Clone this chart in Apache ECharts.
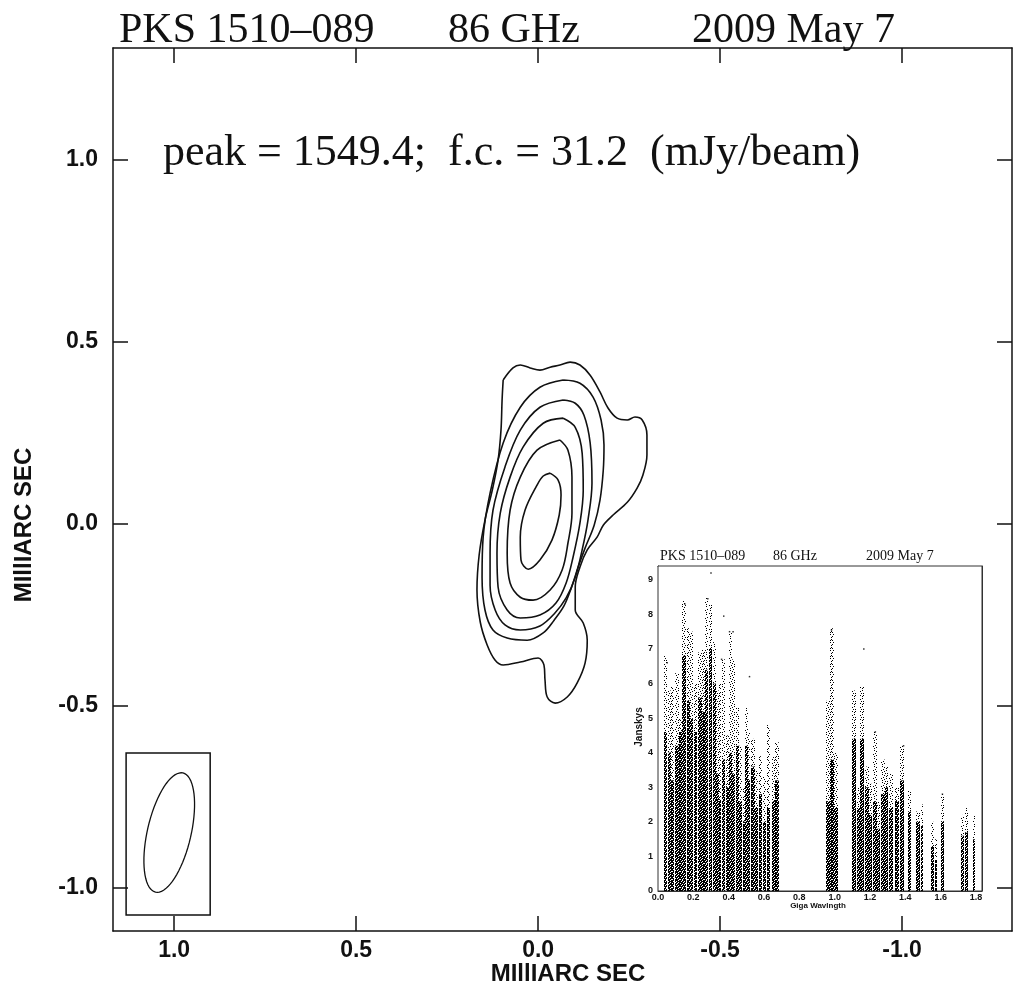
<!DOCTYPE html>
<html><head><meta charset="utf-8">
<script src="https://cdn.jsdelivr.net/npm/echarts@6/dist/echarts.min.js"></script>
<style>html,body{margin:0;padding:0;background:#fff}#c{width:1015px;height:984px}</style>
</head><body><div id="c"></div>
<script>
// ---------- main map (milliarcsec) ----------
const mapTicks = [-1.0, -0.5, 0.0, 0.5, 1.0];

const contourLevel1 = [[0.096,0.396],[0.069,0.429],[0.049,0.437],[0.022,0.429],[-0.005,0.423],[-0.033,0.431],[-0.060,0.437],[-0.088,0.445],[-0.115,0.437],[-0.143,0.409],[-0.170,0.363],[-0.192,0.319],[-0.217,0.291],[-0.245,0.286],[-0.266,0.294],[-0.286,0.286],[-0.299,0.245],[-0.299,0.190],[-0.288,0.135],[-0.272,0.099],[-0.245,0.060],[-0.206,0.025],[-0.179,-0.003],[-0.162,-0.036],[-0.135,-0.071],[-0.115,-0.118],[-0.102,-0.173],[-0.102,-0.236],[-0.124,-0.272],[-0.135,-0.319],[-0.129,-0.382],[-0.107,-0.437],[-0.080,-0.475],[-0.047,-0.492],[-0.025,-0.475],[-0.019,-0.429],[-0.016,-0.387],[0.000,-0.368],[0.049,-0.379],[0.096,-0.387],[0.118,-0.374],[0.140,-0.332],[0.159,-0.269],[0.168,-0.181],[0.162,-0.085],[0.146,0.011],[0.126,0.093],[0.110,0.176],[0.102,0.258],[0.099,0.341]];
const contourLevel2 = [[-0.069,0.396],[-0.115,0.387],[-0.151,0.349],[-0.173,0.286],[-0.181,0.217],[-0.179,0.148],[-0.170,0.066],[-0.154,-0.003],[-0.129,-0.066],[-0.110,-0.118],[-0.091,-0.176],[-0.071,-0.225],[-0.044,-0.264],[-0.014,-0.299],[0.030,-0.319],[0.085,-0.313],[0.124,-0.291],[0.146,-0.236],[0.154,-0.146],[0.151,-0.036],[0.132,0.085],[0.096,0.223],[0.049,0.321],[-0.005,0.376]];
const contourLevel3 = [[-0.069,0.341],[-0.102,0.332],[-0.126,0.299],[-0.143,0.223],[-0.148,0.113],[-0.137,0.011],[-0.121,-0.071],[-0.102,-0.146],[-0.077,-0.203],[-0.044,-0.247],[-0.005,-0.280],[0.049,-0.291],[0.091,-0.277],[0.118,-0.236],[0.132,-0.168],[0.132,-0.080],[0.124,0.038],[0.091,0.157],[0.049,0.258],[-0.005,0.321]];
const contourLevel4 = [[-0.069,0.291],[-0.102,0.266],[-0.121,0.195],[-0.124,0.093],[-0.115,0.003],[-0.096,-0.091],[-0.077,-0.162],[-0.049,-0.217],[-0.005,-0.250],[0.049,-0.258],[0.085,-0.236],[0.110,-0.173],[0.113,-0.080],[0.104,0.030],[0.077,0.129],[0.041,0.212],[-0.014,0.277]];
const contourLevel5 = [[-0.060,0.231],[-0.082,0.203],[-0.093,0.129],[-0.093,0.030],[-0.082,-0.052],[-0.066,-0.126],[-0.033,-0.181],[0.014,-0.209],[0.049,-0.201],[0.077,-0.162],[0.085,-0.080],[0.077,0.038],[0.049,0.129],[0.003,0.203]];
const contourLevel6 = [[-0.033,0.140],[-0.055,0.121],[-0.063,0.080],[-0.058,0.025],[-0.038,-0.044],[-0.005,-0.099],[0.027,-0.124],[0.047,-0.099],[0.049,-0.036],[0.036,0.038],[0.003,0.107],[-0.014,0.132]];
const contours = [contourLevel1, contourLevel2, contourLevel3, contourLevel4, contourLevel5, contourLevel6];

const beamCenter = [1.0135, -0.8475];   // mas
const beamAxes = [0.168, 0.060];         // semi-major, semi-minor (mas)
const beamPA = [-13];                    // degrees
const beamBox = [[1.132, -0.629], [0.901, -1.074]];

// ---------- inset: amplitude vs uv distance ----------
const uvTicks = [0.0, 0.2, 0.4, 0.6, 0.8, 1.0, 1.2, 1.4, 1.6, 1.8];
const ampTicks = [0, 1, 2, 3, 4, 5, 6, 7, 8, 9];
// [u start, u end, top of dense cloud (Jy), top of sparse points (Jy)]
const uvStripes = [
 [0.035,0.052,4.6,6.8],[0.055,0.072,4.0,5.8],[0.075,0.092,3.2,5.9],[0.095,0.115,4.2,6.3],
 [0.118,0.135,4.6,5.0],[0.138,0.160,6.8,8.4],[0.163,0.180,5.5,7.6],[0.183,0.201,5.0,7.5],
 [0.204,0.222,4.6,6.0],[0.225,0.245,5.6,6.9],[0.248,0.265,5.2,7.0],[0.268,0.285,6.4,8.5],
 [0.288,0.306,7.0,8.3],[0.309,0.325,6.0,7.2],[0.328,0.345,3.4,5.8],[0.348,0.362,2.6,6.0],
 [0.365,0.380,3.8,6.7],[0.383,0.399,3.0,4.5],[0.402,0.418,4.0,7.5],[0.421,0.437,3.4,6.7],
 [0.440,0.456,4.2,5.3],[0.459,0.476,2.6,4.2],[0.479,0.488,2.0,3.0],[0.491,0.506,4.2,5.3],
 [0.509,0.522,3.2,4.6],[0.525,0.545,3.6,4.4],[0.550,0.566,2.4,3.5],[0.572,0.590,2.8,3.9],
 [0.597,0.613,2.0,3.3],[0.618,0.634,2.4,4.8],[0.645,0.661,2.6,3.9],[0.665,0.686,3.2,4.3],
 [0.950,0.972,2.6,5.5],[0.972,0.996,3.8,7.6],[0.996,1.018,2.4,4.0],
 [1.096,1.120,4.4,5.8],[1.124,1.142,2.4,3.0],[1.146,1.170,4.4,5.9],[1.170,1.194,3.0,3.6],
 [1.196,1.212,2.2,3.1],[1.218,1.238,2.6,4.6],[1.242,1.260,1.8,2.6],[1.262,1.282,2.8,3.8],
 [1.284,1.302,3.0,3.6],[1.306,1.328,2.4,3.4],[1.340,1.360,2.6,3.0],[1.370,1.392,3.2,4.2],
 [1.414,1.432,2.3,2.9],[1.458,1.478,2.0,2.3],[1.486,1.500,1.9,2.5],[1.544,1.562,1.3,2.0],
 [1.568,1.582,0.9,1.5],[1.600,1.618,2.0,2.8],[1.714,1.732,1.6,2.2],[1.736,1.752,1.7,2.4],
 [1.782,1.796,1.5,2.2]
];
const uvOutliers = [[0.300,9.2],[0.282,8.45],[0.152,8.3],[0.372,7.95],[0.405,7.5],[0.425,7.5],[0.518,6.2],[1.165,7.0],[0.982,7.55],[0.052,6.6],[0.360,6.7],[1.390,4.2],[1.610,2.8],[1.230,4.6]];

// ---------- rendering ----------
function tile(rows){
  const c=document.createElement('canvas'); c.width=rows[0].length; c.height=rows.length;
  const g=c.getContext('2d'); g.fillStyle='#000';
  rows.forEach((r,y)=>{for(let x=0;x<r.length;x++) if(r[x]==='X') g.fillRect(x,y,1,1);});
  return c;
}
const densePat = {image: tile(["XX.XXX.X","X.XX.XXX","XXX.XX.X",".XXXX.XX","XX.X.XXX","X.XXXX.X","XXX.X.XX",".X.XXXX."]), repeat:'repeat'};
const sparsePat = {image: tile(["X.....X.","...X....",".X....X.","....X...","X.X.....",".....X.X","..X.....","....X..X"]), repeat:'repeat'};

const INK = '#111';
const sans = '"Liberation Sans", Arial, sans-serif';
const serif = '"Liberation Serif", "Times New Roman", serif';

function mapAxis(kind, pos, showLabel){
  const isX = kind==='x';
  return {
    gridIndex:0, type:'value', position:pos,
    min: isX ? -1.302 : -1.118, max: isX ? 1.168 : 1.308, inverse: isX,
    axisLine:{show:true, onZero:false, lineStyle:{color:INK, width:1.5}},
    axisTick:{show:true, inside:true, length:15, customValues:mapTicks, lineStyle:{color:INK, width:1.5}},
    axisLabel:{show:showLabel, customValues:mapTicks, formatter:v=>v.toFixed(1),
      fontFamily:sans, fontWeight:'bold', fontSize:23, color:INK, margin: isX ? 8 : 15},
    splitLine:{show:false}
  };
}
function insetAxis(kind, pos, showLabel){
  const isX = kind==='x';
  return {
    gridIndex:1, type:'value', position:pos,
    min:0, max: isX ? 1.834 : 9.4,
    axisLine:{show:true, onZero:false, lineStyle:{color:'#333', width:1}},
    axisTick:{show:true, inside:true, length:7, customValues: isX ? uvTicks : ampTicks, lineStyle:{color:'#333', width:1}},
    axisLabel:{show:showLabel, customValues: isX ? uvTicks : ampTicks,
      formatter: isX ? (v=>v.toFixed(1)) : (v=>String(v)),
      fontFamily:sans, fontWeight:'bold', fontSize:9, color:INK, margin: isX ? 2 : 5},
    splitLine:{show:false}
  };
}

const contourSeries = contours.map(c => ({
  type:'line', xAxisIndex:0, yAxisIndex:0, data: c.concat([c[0]]),
  symbol:'none', smooth:0.35, silent:true, z:3,
  lineStyle:{color:INK, width:1.6}
}));

const option = {
  animation:false,
  backgroundColor:'#fff',
  grid:[
    {left:113, right:3, top:48, bottom:53, outerBoundsMode:'none', containLabel:false},
    {left:658, right:33, top:566, bottom:93, outerBoundsMode:'none', containLabel:false,
     show:true, backgroundColor:'#fff', borderColor:'#333', borderWidth:1, z:5}
  ],
  xAxis:[ mapAxis('x','bottom',true), mapAxis('x','top',false), insetAxis('x','bottom',true), insetAxis('x','top',false) ],
  yAxis:[ mapAxis('y','left',true), mapAxis('y','right',false), insetAxis('y','left',true), insetAxis('y','right',false) ],
  graphic:[
    {type:'text', x:119, y:31, style:{text:'PKS 1510–089', font:'42px '+serif, fill:INK, verticalAlign:'middle'}},
    {type:'text', x:448, y:31, style:{text:'86 GHz', font:'42px '+serif, fill:INK, verticalAlign:'middle'}},
    {type:'text', x:692, y:31, style:{text:'2009 May 7', font:'42px '+serif, fill:INK, verticalAlign:'middle'}},
    {type:'text', x:163, y:153, style:{text:'peak = 1549.4;  f.c. = 31.2  (mJy/beam)', font:'44px '+serif, fill:INK, verticalAlign:'middle'}},
    {type:'text', x:568, y:974, style:{text:'MIllIARC SEC', font:'bold 24px '+sans, fill:INK, align:'center', verticalAlign:'middle'}},
    {type:'text', x:24, y:525, rotation:Math.PI/2, style:{text:'MIllIARC SEC', font:'bold 24px '+sans, fill:INK, align:'center', verticalAlign:'middle'}},
    {type:'text', x:660, y:556, z:10, style:{text:'PKS 1510–089', font:'14px '+serif, fill:INK, verticalAlign:'middle'}},
    {type:'text', x:773, y:556, z:10, style:{text:'86 GHz', font:'14px '+serif, fill:INK, verticalAlign:'middle'}},
    {type:'text', x:866, y:556, z:10, style:{text:'2009 May 7', font:'14px '+serif, fill:INK, verticalAlign:'middle'}},
    {type:'text', x:818, y:906, z:10, style:{text:'Giga Wavlngth', font:'bold 8px '+sans, fill:INK, align:'center', verticalAlign:'middle'}},
    {type:'text', x:639, y:727, z:10, rotation:Math.PI/2, style:{text:'Janskys', font:'bold 10px '+sans, fill:INK, align:'center', verticalAlign:'middle'}}
  ],
  series: contourSeries.concat([
    { // beam box
      type:'custom', xAxisIndex:0, yAxisIndex:0, silent:true, z:3,
      data:[[beamBox[0][0], beamBox[0][1], beamBox[1][0], beamBox[1][1]]],
      renderItem:(p, api)=>{
        const a=api.coord([api.value(0), api.value(1)]), b=api.coord([api.value(2), api.value(3)]);
        return {type:'rect', shape:{x:Math.min(a[0],b[0]), y:Math.min(a[1],b[1]), width:Math.abs(b[0]-a[0]), height:Math.abs(b[1]-a[1])},
          style:{fill:null, stroke:INK, lineWidth:1.5}};
      }
    },
    { // restoring beam
      type:'custom', xAxisIndex:0, yAxisIndex:0, silent:true, z:3,
      data:[[beamCenter[0], beamCenter[1], beamAxes[0], beamAxes[1], beamPA[0]]],
      renderItem:(p, api)=>{
        const cx=api.value(0), cy=api.value(1), A=api.value(2), B=api.value(3), pa=api.value(4)*Math.PI/180;
        const pts=[];
        for(let i=0;i<72;i++){
          const t=i/72*2*Math.PI;
          const x=cx + A*Math.cos(t)*Math.sin(pa) + B*Math.sin(t)*Math.cos(pa);
          const y=cy + A*Math.cos(t)*Math.cos(pa) - B*Math.sin(t)*Math.sin(pa);
          pts.push(api.coord([x,y]));
        }
        return {type:'polygon', shape:{points:pts}, style:{fill:null, stroke:INK, lineWidth:1.3}};
      }
    },
    { // visibility stripes
      type:'custom', xAxisIndex:2, yAxisIndex:2, silent:true, z:6,
      data: uvStripes,
      encode:{x:[0,1], y:[2,3]},
      renderItem:(p, api)=>{
        const u0=api.value(0), u1=api.value(1), d=api.value(2), t=api.value(3);
        const a=api.coord([u0,0]), b=api.coord([u1,d]), c=api.coord([u1,t]);
        const x=Math.round(a[0]), w=Math.max(1, Math.round(b[0]-a[0]));
        return {type:'group', children:[
          {type:'rect', shape:{x:x, y:b[1], width:w, height:a[1]-b[1]}, style:{fill:densePat}},
          {type:'rect', shape:{x:x, y:c[1], width:w, height:b[1]-c[1]}, style:{fill:sparsePat}}
        ]};
      }
    },
    {
      type:'scatter', xAxisIndex:2, yAxisIndex:2, silent:true, z:6,
      data: uvOutliers, symbol:'rect', symbolSize:1.5, itemStyle:{color:'#000'}
    }
  ])
};
const chart = echarts.init(document.getElementById('c'));
chart.setOption(option);
</script>
</body></html>
